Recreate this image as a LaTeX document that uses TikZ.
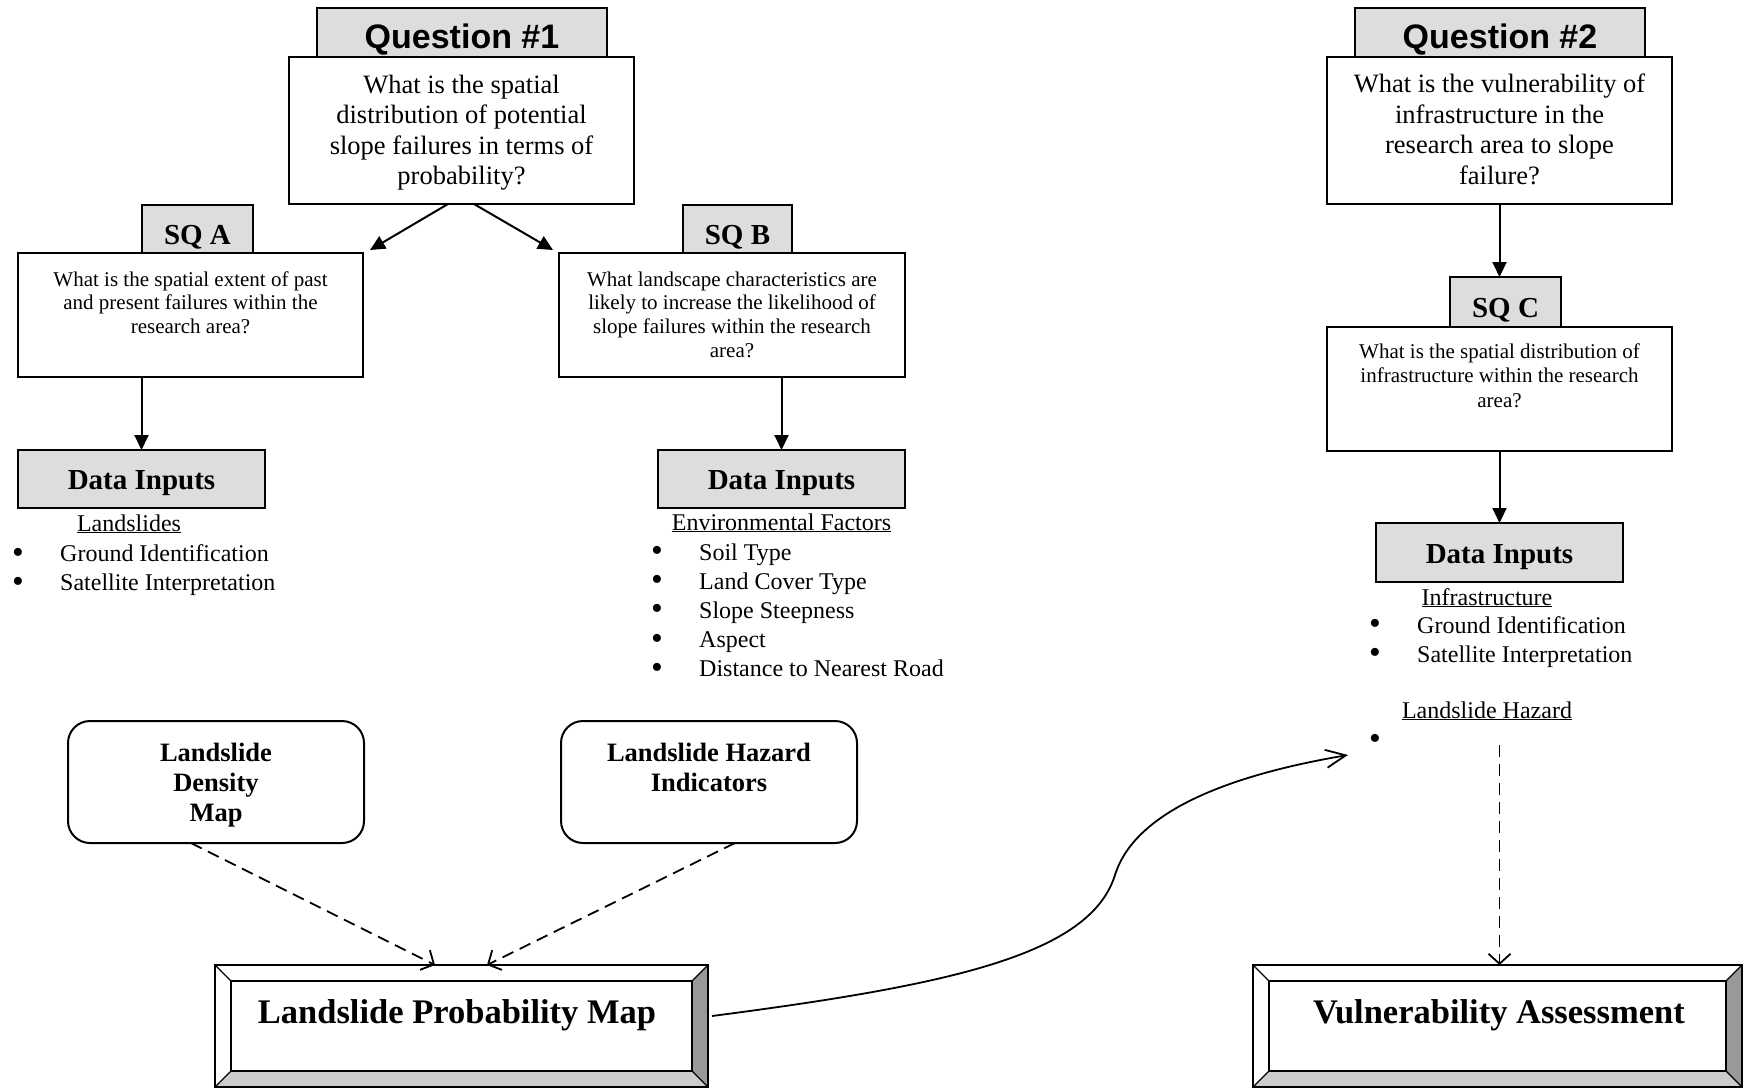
\documentclass[tikz,border=0pt]{standalone}
\usepackage{fontspec}
\setmainfont{Liberation Serif}
\newfontfamily\arialfont{Liberation Sans}
\usetikzlibrary{arrows.meta,calc}
\definecolor{tabgray}{RGB}{221,221,221}
\definecolor{bevdark}{RGB}{153,153,153}
\definecolor{bevlight}{RGB}{204,204,204}
\newcommand{\bltmark}{\raisebox{-1.5pt}{\scalebox{1.4}{\textbullet}}}
\newcommand{\blt}{\makebox[48pt][l]{\bltmark}}
\newcommand{\bevelize}[1]{%
 \fill[bevdark] (#1.north east) -- (#1.south east) -- ([shift={(-16pt,16pt)}]#1.south east) -- ([shift={(-16pt,-16pt)}]#1.north east) -- cycle;
 \fill[bevlight] (#1.south west) -- (#1.south east) -- ([shift={(-16pt,16pt)}]#1.south east) -- ([shift={(16pt,16pt)}]#1.south west) -- cycle;
 \draw[line width=1.8pt] (#1.north west) rectangle (#1.south east);
 \draw[line width=1.8pt] ([shift={(16pt,-16pt)}]#1.north west) rectangle ([shift={(-16pt,16pt)}]#1.south east);
 \draw[line width=1.3pt] (#1.north west) -- ([shift={(16pt,-16pt)}]#1.north west)
   (#1.north east) -- ([shift={(-16pt,-16pt)}]#1.north east)
   (#1.south east) -- ([shift={(-16pt,16pt)}]#1.south east)
   (#1.south west) -- ([shift={(16pt,16pt)}]#1.south west);
}
\tikzset{
 plainbox/.style={draw, line width=2pt, inner sep=0pt, outer sep=0pt, fill=white},
 tabbox/.style={plainbox, fill=tabgray},
 roundbox/.style={plainbox, rounded corners=22pt},
 bevbox/.style={inner sep=0pt, outer sep=0pt, fill=white},
 qtext/.style={anchor=base, align=center, inner sep=0pt, font=\fontsize{26.5pt}{30.5pt}\selectfont},
 sqtext/.style={anchor=base, align=center, inner sep=0pt, font=\fontsize{21pt}{23.8pt}\selectfont},
 qtitle/.style={anchor=base, inner sep=0pt, font=\arialfont\bfseries\fontsize{34pt}{40pt}\selectfont},
 sqtitle/.style={anchor=base, inner sep=0pt, font=\bfseries\fontsize{29pt}{34pt}\selectfont},
 rtext/.style={anchor=base, align=center, inner sep=0pt, font=\bfseries\fontsize{26.5pt}{30.4pt}\selectfont},
 bigtext/.style={anchor=base, inner sep=0pt, font=\bfseries\fontsize{34.5pt}{40pt}\selectfont},
 headtext/.style={anchor=base, inner sep=0pt, font=\fontsize{24pt}{29pt}\selectfont},
 listtext/.style={anchor=base west, align=left, inner sep=0pt, font=\fontsize{24pt}{29.2pt}\selectfont},
 arr/.style={line width=2pt, -{Triangle[length=15pt,width=14pt]}},
 dasharr/.style={line width=1.8pt, dash pattern=on 12pt off 7pt, -{Straight Barb[length=10pt,width=22pt]}},
 curvearr/.style={line width=1.8pt, -{Straight Barb[length=20pt,width=18pt]}},
}
\begin{document}
\begin{tikzpicture}[x=1pt,y=-1pt]
\useasboundingbox (0,0) rectangle (1756,1089);

% ---------- Question 1 ----------
\node[tabbox, minimum width=290pt, minimum height=49pt] (q1tab) at (462,32.5) {};
\node[qtitle] (q1title) at (462,49) {Question \#1};
\node[plainbox, minimum width=345pt, minimum height=147pt] (q1) at (461.5,130.5) {};
\node[qtext] (q1t) at (461.5,184.5) {What is the spatial\\distribution of potential\\slope failures in terms of\\probability?};

% ---------- SQ A ----------
\node[tabbox, minimum width=111pt, minimum height=48pt] (sqatab) at (197.5,229) {};
\node[sqtitle] (sqatitle) at (197.5,244) {SQ A};
\node[plainbox, minimum width=345pt, minimum height=124pt] (sqa) at (190.5,315) {};
\node[sqtext] (sqat) at (190.5,333.6) {What is the spatial extent of past\\and present failures within the\\research area?};

% ---------- SQ B ----------
\node[tabbox, minimum width=109pt, minimum height=48pt] (sqbtab) at (737.5,229) {};
\node[sqtitle] (sqbtitle) at (737.5,244) {SQ B};
\node[plainbox, minimum width=346pt, minimum height=124pt] (sqb) at (732,315) {};
\node[sqtext] (sqbt) at (732,357.4) {What landscape characteristics are\\likely to increase the likelihood of\\slope failures within the research\\area?};

% ---------- Data inputs A / B ----------
\node[tabbox, minimum width=247pt, minimum height=58pt] (dataA) at (141.5,479) {};
\node[sqtitle] (dataAt) at (141.5,489) {Data Inputs};
\node[headtext] (headA) at (129,531) {\underline{Landslides}};
\node[listtext] (listA) at (12,590.7) {\blt Ground Identification\\\blt Satellite Interpretation};

\node[tabbox, minimum width=247pt, minimum height=58pt] (dataB) at (781.5,479) {};
\node[sqtitle] (dataBt) at (781.5,489) {Data Inputs};
\node[headtext] (headB) at (781.5,530) {\underline{Environmental Factors}};
\node[listtext] (listB) at (651,676.8) {\blt Soil Type\\\blt Land Cover Type\\\blt Slope Steepness\\\blt Aspect\\\blt Distance to Nearest Road};

% ---------- Question 2 ----------
\node[tabbox, minimum width=290pt, minimum height=49pt] (q2tab) at (1500,32.5) {};
\node[qtitle] (q2title) at (1500,49) {Question \#2};
\node[plainbox, minimum width=345pt, minimum height=147pt] (q2) at (1499.5,130.5) {};
\node[qtext] (q2t) at (1499.5,184) {What is the vulnerability of\\infrastructure in the\\research area to slope\\failure?};

% ---------- SQ C ----------
\node[tabbox, minimum width=111pt, minimum height=50pt] (sqctab) at (1505.5,302) {};
\node[sqtitle] (sqctitle) at (1505.5,317) {SQ C};
\node[plainbox, minimum width=345pt, minimum height=124pt] (sqc) at (1499.5,389) {};
\node[sqtext, font=\fontsize{21pt}{24.5pt}\selectfont] (sqct) at (1499.5,407) {What is the spatial distribution of\\infrastructure within the research\\area?};

\node[tabbox, minimum width=247pt, minimum height=59pt] (dataC) at (1499.5,552.5) {};
\node[sqtitle] (dataCt) at (1499.5,563) {Data Inputs};
\node[headtext] (headC) at (1487,605) {\underline{Infrastructure}};
\node[listtext] (listC) at (1369,662.2) {\blt Ground Identification\\\blt Satellite Interpretation};
\node[headtext] (headH) at (1487,718) {\underline{Landslide Hazard}};
\node[listtext] (bulH) at (1369,748) {\bltmark};

% ---------- rounded boxes ----------
\node[roundbox, minimum width=296pt, minimum height=122pt] (dens) at (216,782) {};
\node[rtext] (denst) at (216,821.8) {Landslide\\Density\\Map};
\node[roundbox, minimum width=296pt, minimum height=122pt] (hazi) at (709,782) {};
\node[rtext] (hazit) at (709,791.4) {Landslide Hazard\\Indicators};

% ---------- bevelled result boxes ----------
\node[bevbox, minimum width=493pt, minimum height=122pt] (lpm) at (461.5,1026) {};
\bevelize{lpm}
\node[bigtext] (lpmt) at (457,1023) {Landslide Probability Map};
\node[bevbox, minimum width=489pt, minimum height=122pt] (vul) at (1497.5,1026) {};
\bevelize{vul}
\node[bigtext] (vult) at (1499,1023) {Vulnerability Assessment};

% ---------- connectors ----------
\draw[arr] ([xshift=-13.5pt]q1.south) -- ([shift={(7pt,3pt)}]sqa.north east);
\draw[arr] ([xshift=12.5pt]q1.south) -- ([shift={(-6pt,3pt)}]sqb.north west);
\draw[arr] (dataA.north |- sqa.south) -- (dataA.north);
\draw[arr] (dataB.north |- sqb.south) -- (dataB.north);
\draw[arr] (q2.south) -- (q2.south |- sqctab.north);
\draw[arr] (sqc.south) -- (dataC.north);

\draw[dasharr] ([xshift=-25pt]dens.south) -- ([xshift=-26.5pt]lpm.north);
\draw[dasharr] ([xshift=26pt]hazi.south) -- ([xshift=25.5pt]lpm.north);

\coordinate (hzline) at (1499.5,745);
\draw[dasharr] (hzline) -- (hzline |- vul.north);

\coordinate (hztip) at (1348,755);
\draw[curvearr] ([shift={(4pt,10pt)}]lpm.east) .. controls (950,985) and (1090,955) .. (1115,875)
  .. controls (1135,811) and (1230,775) .. (hztip);
\end{tikzpicture}
\end{document}
